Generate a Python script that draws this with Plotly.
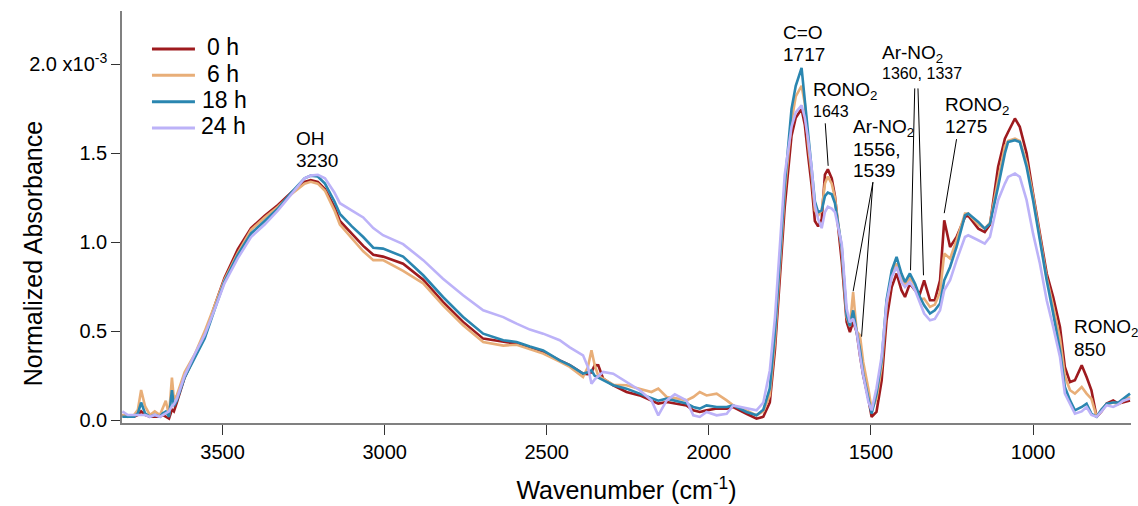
import plotly.graph_objects as go

# Wavenumber grid (cm^-1), high to low
wavenumber = [
    3809, 3792, 3773, 3761, 3751, 3739, 3724, 3709, 3693, 3684, 3675, 3665,
    3656, 3650, 3641, 3617, 3586, 3555, 3525, 3494, 3453, 3412, 3370, 3329,
    3288, 3247, 3228, 3206, 3184, 3155, 3138, 3101, 3066, 3035, 3005, 2943,
    2881, 2820, 2758, 2696, 2634, 2593, 2552, 2511, 2460, 2429, 2388, 2373,
    2362, 2352, 2341, 2326, 2295, 2254, 2213, 2177, 2156, 2130, 2105, 2069,
    2048, 2028, 2007, 1976, 1945, 1925, 1884, 1853, 1832, 1812, 1796, 1781,
    1766, 1745, 1732, 1714, 1704, 1694, 1683, 1673, 1663, 1652, 1642, 1633,
    1621, 1611, 1590, 1575, 1565, 1555, 1544, 1534, 1524, 1508, 1498, 1483,
    1467, 1452, 1436, 1421, 1406, 1395, 1380, 1364, 1349, 1336, 1318, 1303,
    1287, 1274, 1256, 1236, 1210, 1200, 1169, 1149, 1133, 1108, 1087, 1077,
    1056, 1041, 1020, 1000, 979, 958, 938, 917, 902, 886, 871, 850,
    835, 820, 804, 789, 773, 753, 737, 722, 701,
]

# Normalized absorbance (x10^-3) at each aging time
absorbance_0h = [
    0.03, 0.02, 0.02, 0.03, 0.05, 0.03, 0.02, 0.02, 0.02, 0.03, 0.02, 0.01,
    0.06, 0.05, 0.10, 0.24, 0.36, 0.47, 0.64, 0.80, 0.96, 1.08, 1.15, 1.21,
    1.28, 1.34, 1.35, 1.34, 1.30, 1.20, 1.12, 1.05, 0.98, 0.93, 0.92, 0.88,
    0.79, 0.665, 0.553, 0.459, 0.44, 0.43, 0.41, 0.385, 0.337, 0.31, 0.262, 0.26,
    0.27, 0.31, 0.309, 0.234, 0.197, 0.159, 0.14, 0.112, 0.094, 0.103, 0.094, 0.084,
    0.056, 0.047, 0.056, 0.066, 0.066, 0.075, 0.037, 0.009, 0.02, 0.10, 0.40, 0.80,
    1.20, 1.60, 1.70, 1.75, 1.66, 1.49, 1.32, 1.12, 1.09, 1.13, 1.38, 1.41,
    1.36, 1.26, 0.89, 0.553, 0.496, 0.553, 0.496, 0.365, 0.253, 0.122, 0.019, 0.047,
    0.225, 0.562, 0.749, 0.825, 0.731, 0.693, 0.768, 0.731, 0.712, 0.787, 0.675, 0.675,
    0.787, 1.124, 0.974, 1.03, 1.143, 1.15, 1.077, 1.058, 1.10, 1.424, 1.583, 1.62,
    1.696, 1.649, 1.50, 1.274, 1.049, 0.825, 0.693, 0.525, 0.30, 0.215, 0.225, 0.309,
    0.243, 0.169, 0.019, 0.05, 0.094, 0.112, 0.094, 0.10, 0.112,
]
absorbance_6h = [
    0.03, 0.02, 0.03, 0.06, 0.17, 0.08, 0.03, 0.05, 0.03, 0.07, 0.11, 0.03,
    0.24, 0.12, 0.14, 0.27, 0.37, 0.50, 0.64, 0.79, 0.94, 1.07, 1.14, 1.20,
    1.27, 1.33, 1.34, 1.33, 1.29, 1.18, 1.10, 1.02, 0.95, 0.90, 0.90, 0.84,
    0.77, 0.646, 0.534, 0.44, 0.42, 0.425, 0.40, 0.375, 0.33, 0.30, 0.243, 0.30,
    0.393, 0.31, 0.25, 0.234, 0.20, 0.197, 0.178, 0.159, 0.178, 0.131, 0.125, 0.112,
    0.131, 0.159, 0.14, 0.15, 0.112, 0.084, 0.056, 0.028, 0.05, 0.14, 0.45, 0.88,
    1.28, 1.68, 1.82, 1.88, 1.78, 1.55, 1.38, 1.18, 1.15, 1.18, 1.33, 1.37,
    1.33, 1.25, 0.95, 0.58, 0.53, 0.721, 0.50, 0.478, 0.328, 0.178, 0.06, 0.12,
    0.30, 0.64, 0.82, 0.881, 0.80, 0.76, 0.80, 0.76, 0.68, 0.684, 0.637, 0.65,
    0.72, 0.937, 0.909, 1.012, 1.162, 1.162, 1.10, 1.077, 1.11, 1.35, 1.54, 1.57,
    1.583, 1.57, 1.45, 1.26, 1.03, 0.80, 0.64, 0.46, 0.25, 0.169, 0.15, 0.187,
    0.15, 0.12, 0.02, 0.06, 0.09, 0.10, 0.09, 0.11, 0.13,
]
absorbance_18h = [
    0.02, 0.02, 0.02, 0.04, 0.10, 0.04, 0.02, 0.03, 0.02, 0.04, 0.05, 0.02,
    0.17, 0.08, 0.11, 0.24, 0.35, 0.46, 0.62, 0.78, 0.93, 1.05, 1.12, 1.19,
    1.28, 1.36, 1.375, 1.37, 1.33, 1.23, 1.16, 1.09, 1.03, 0.97, 0.965, 0.92,
    0.815, 0.693, 0.581, 0.487, 0.45, 0.44, 0.415, 0.393, 0.337, 0.31, 0.262, 0.27,
    0.281, 0.25, 0.24, 0.225, 0.197, 0.178, 0.15, 0.122, 0.11, 0.122, 0.112, 0.094,
    0.075, 0.066, 0.084, 0.075, 0.075, 0.084, 0.047, 0.028, 0.06, 0.18, 0.50, 0.92,
    1.32, 1.75, 1.88, 1.98, 1.80, 1.62, 1.43, 1.23, 1.17, 1.18, 1.26, 1.28,
    1.27, 1.22, 0.97, 0.59, 0.53, 0.618, 0.496, 0.40, 0.26, 0.12, 0.037, 0.15,
    0.337, 0.675, 0.843, 0.918, 0.825, 0.777, 0.825, 0.768, 0.693, 0.646, 0.60, 0.618,
    0.656, 0.787, 0.862, 0.974, 1.152, 1.162, 1.115, 1.077, 1.105, 1.311, 1.50, 1.564,
    1.574, 1.564, 1.424, 1.237, 1.012, 0.787, 0.60, 0.393, 0.187, 0.112, 0.056, 0.075,
    0.094, 0.037, 0.02, 0.06, 0.094, 0.10, 0.10, 0.122, 0.15,
]
absorbance_24h = [
    0.05, 0.03, 0.03, 0.03, 0.03, 0.03, 0.02, 0.03, 0.02, 0.03, 0.04, 0.05,
    0.08, 0.09, 0.12, 0.25, 0.37, 0.48, 0.62, 0.77, 0.91, 1.03, 1.10, 1.18,
    1.27, 1.36, 1.375, 1.38, 1.36, 1.28, 1.22, 1.18, 1.14, 1.08, 1.04, 0.99,
    0.90, 0.796, 0.703, 0.618, 0.58, 0.543, 0.51, 0.487, 0.45, 0.41, 0.365, 0.30,
    0.206, 0.23, 0.25, 0.272, 0.262, 0.215, 0.169, 0.112, 0.028, 0.112, 0.146, 0.112,
    0.028, 0.019, 0.047, 0.028, 0.037, 0.084, 0.066, 0.056, 0.10, 0.28, 0.58, 1.00,
    1.38, 1.65, 1.73, 1.77, 1.70, 1.58, 1.42, 1.21, 1.13, 1.08, 1.17, 1.20,
    1.19, 1.17, 0.99, 0.628, 0.55, 0.571, 0.496, 0.365, 0.253, 0.103, 0.056, 0.18,
    0.36, 0.66, 0.806, 0.862, 0.777, 0.749, 0.777, 0.731, 0.656, 0.60, 0.562, 0.57,
    0.618, 0.731, 0.787, 0.899, 1.03, 1.04, 1.012, 0.993, 1.03, 1.237, 1.33, 1.368,
    1.387, 1.368, 1.237, 1.049, 0.881, 0.675, 0.525, 0.356, 0.15, 0.094, 0.037, 0.05,
    0.075, 0.03, 0.02, 0.05, 0.085, 0.075, 0.09, 0.11, 0.122,
]

series_names = ["0 h", "6 h", "18 h", "24 h"]
series_colors = ["#9E1A1E", "#E8AE78", "#2A86B0", "#BCB2F8"]
series_values = [absorbance_0h, absorbance_6h, absorbance_18h, absorbance_24h]

FONT = "Liberation Sans, Arial, sans-serif"

fig = go.Figure()
for name, color, values in zip(series_names, series_colors, series_values):
    fig.add_trace(go.Scatter(
        x=wavenumber, y=values, name=name, mode="lines",
        line=dict(color=color, width=2.6), showlegend=False,
    ))

# Legend key drawn in the upper-left corner: sample line + label per series
legend_rows_y = [0.908, 0.844, 0.780, 0.716]
legend_text_x = [0.0823, 0.0823, 0.0773, 0.0763]
for name, color, ly, tx in zip(series_names, series_colors, legend_rows_y, legend_text_x):
    fig.add_shape(type="line", xref="paper", yref="paper",
                  x0=0.0297, x1=0.0723, y0=ly, y1=ly,
                  line=dict(color=color, width=3))
    fig.add_annotation(x=tx, y=ly + 0.004, xref="paper", yref="paper", text=name,
                       showarrow=False, xanchor="left", yanchor="middle",
                       font=dict(family=FONT, size=23, color="black"))

# Band labels: (text, wavenumber of left edge, y, font size)
band_labels = [
    ("OH", 3280, 1.582, 19), ("3230", 3280, 1.461, 19),
    ("C=O", 1776, 2.178, 19), ("1717", 1776, 2.056, 19),
    ("RONO<sub>2</sub>", 1685, 1.85, 19), ("1643", 1685, 1.738, 16),
    ("Ar-NO<sub>2</sub>", 1562, 1.645, 19), ("1556,", 1562, 1.523, 19),
    ("1539", 1562, 1.405, 19),
    ("Ar-NO<sub>2</sub>", 1473, 2.056, 19), ("1360, 1337", 1473, 1.949, 16),
    ("RONO<sub>2</sub>", 1277, 1.766, 19), ("1275", 1277, 1.649, 19),
    ("RONO<sub>2</sub>", 881, 0.521, 19), ("850", 881, 0.399, 19),
]
for text, xw, yv, size in band_labels:
    fig.add_annotation(
        x=xw, y=yv, xref="x", yref="y", text=text, showarrow=False,
        xanchor="left", yanchor="middle",
        font=dict(family=FONT, size=size, color="black"),
    )

# Leader lines from labels to bands: (x0, y0, x1, y1)
leaders = [
    (1641, 1.669, 1632, 1.43),
    (1494, 1.338, 1555, 0.725),
    (1494, 1.338, 1529, 0.47),
    (1365, 1.865, 1378, 0.843),
    (1355, 1.865, 1338, 0.815),
    (1236, 1.58, 1274, 1.164),
]
for x0, y0, x1, y1 in leaders:
    fig.add_shape(type="line", xref="x", yref="y", x0=x0, y0=y0, x1=x1, y1=y1,
                  line=dict(color="black", width=1))

# Y axis title, placed below the vertical centre of the plot
fig.add_annotation(
    x=-0.088, y=0.41, xref="paper", yref="paper",
    text="Normalized Absorbance", textangle=-90, showarrow=False,
    xanchor="center", yanchor="middle",
    font=dict(family=FONT, size=25, color="black"),
)

fig.update_layout(
    width=1138, height=506,
    margin=dict(l=122, r=7, t=11, b=83),
    paper_bgcolor="white", plot_bgcolor="white",
    font=dict(family=FONT, color="black"),
    showlegend=False,
    xaxis=dict(
        range=[3810, 698], showgrid=False, zeroline=False,
        showline=True, linecolor="#808080", linewidth=1.5,
        ticks="outside", ticklen=10, tickwidth=1.2, tickcolor="#333333",
        tickvals=[3500, 3000, 2500, 2000, 1500, 1000],
        tickfont=dict(family=FONT, size=20, color="black"),
        title=dict(text="Wavenumber (cm<sup>-1</sup>)", standoff=20,
                   font=dict(family=FONT, size=25, color="black")),
    ),
    yaxis=dict(
        range=[-0.015, 2.30], showgrid=False, zeroline=False,
        showline=True, linecolor="#808080", linewidth=1.5,
        ticks="outside", ticklen=9, tickwidth=1.2, tickcolor="#333333",
        tickvals=[0, 0.5, 1.0, 1.5, 2.0],
        ticktext=["0.0", "0.5", "1.0", "1.5", "2.0 x10<sup>-3</sup>"],
        tickfont=dict(family=FONT, size=20, color="black"),
    ),
)

fig.write_html("out.html")
